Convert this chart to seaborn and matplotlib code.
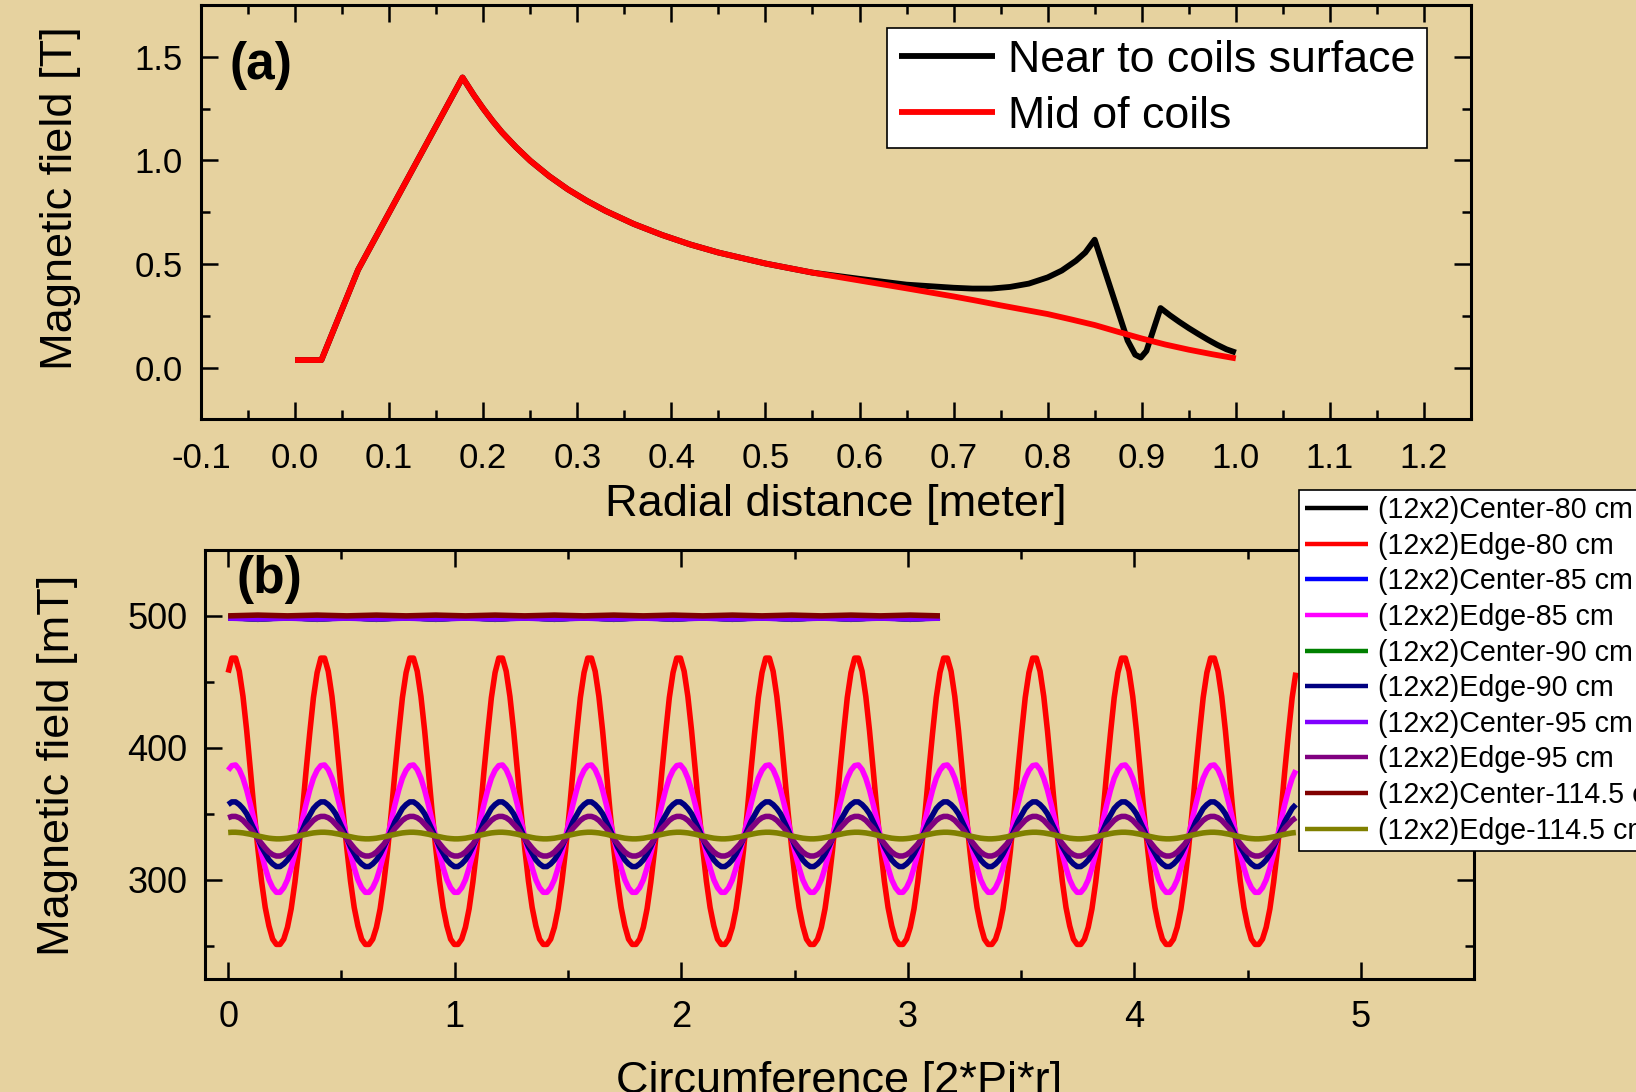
import numpy as np
import pandas as pd
import matplotlib
matplotlib.use("Agg")
import matplotlib.pyplot as plt
import seaborn as sns
from matplotlib.lines import Line2D
from matplotlib.ticker import MultipleLocator

# ---- panel (a): field along the radial distance [m] -> [T] ----
mid_x = [0.000, 0.028, 0.067, 0.178, 0.190, 0.200, 0.210, 0.220, 0.235, 0.250,
         0.270, 0.290, 0.310, 0.330, 0.360, 0.390, 0.420, 0.450, 0.500, 0.550,
         0.600, 0.650, 0.700, 0.725, 0.750, 0.775, 0.800, 0.825, 0.850, 0.875,
         0.900, 0.925, 0.950, 0.975, 1.000]
mid_y = [0.036, 0.036, 0.472, 1.400, 1.315, 1.250, 1.190, 1.135, 1.063, 0.998,
         0.924, 0.860, 0.805, 0.756, 0.693, 0.640, 0.594, 0.555, 0.502, 0.458,
         0.420, 0.382, 0.343, 0.322, 0.300, 0.279, 0.258, 0.232, 0.205, 0.172,
         0.140, 0.111, 0.086, 0.064, 0.044]

# near the coil surface: same as mid-coil up to 0.55 m, then the coil bumps
near_x = mid_x[:20] + [0.600, 0.650, 0.700, 0.720, 0.740, 0.760, 0.780, 0.800,
                       0.815, 0.830, 0.840, 0.850, 0.885, 0.893, 0.899, 0.905,
                       0.920, 0.930, 0.940, 0.950, 0.960, 0.970, 0.980, 0.990,
                       1.000]
near_y = mid_y[:20] + [0.428, 0.400, 0.385, 0.381, 0.381, 0.389, 0.405, 0.435,
                       0.468, 0.515, 0.555, 0.617, 0.130, 0.062, 0.048, 0.080,
                       0.287, 0.252, 0.220, 0.190, 0.162, 0.135, 0.110, 0.088,
                       0.072]

# ---- panel (b): field along the circumference [2*Pi*r] -> [mT] ----
pole_pitch = 0.3927          # one period of the ripple
n_periods = 12
# one period of each edge curve (24 readings, starting at x = 0)
edge_80 = [457, 468, 468, 458, 439, 413, 383, 352, 324, 299, 279, 265,
           255, 251, 251, 255, 264, 278, 298, 322, 351, 382, 411, 438]
edge_85 = [383, 386.5, 387, 383.5, 377, 368, 357, 345, 332, 320, 309, 300,
           294, 290.5, 290.5, 294, 300, 309, 320, 332, 345, 357, 368, 377]
edge_90 = [357, 359, 359, 357, 354, 350, 344, 338, 331.5, 325, 320, 315,
           312, 310, 310, 312, 315, 319.5, 325, 331, 337.5, 344, 349, 354]
edge_95 = [347, 348, 348, 347, 345, 342, 339, 335, 331, 327.5, 324, 321,
           319, 318, 318, 319, 321, 324, 327, 331, 335, 339, 342, 345]
edge_114 = [335.8, 336, 336, 335.8, 335.5, 335, 334.5, 333.8, 333.2, 332.6, 332, 331.5,
            331.2, 331, 331, 331.2, 331.5, 332, 332.5, 333.2, 333.8, 334.4, 335, 335.5]

# centre curves only run to x = pi, two readings per small ripple
center_span = np.pi
center_80 = [499.0, 497.4]
center_85 = [498.4, 497.8]
center_90 = [498.8, 497.6]
center_95 = [498.3, 497.7]
center_114 = [500.0, 500.6]

names_b = ["(12x2)Center-80 cm", "(12x2)Edge-80 cm", "(12x2)Center-85 cm",
           "(12x2)Edge-85 cm", "(12x2)Center-90 cm", "(12x2)Edge-90 cm",
           "(12x2)Center-95 cm", "(12x2)Edge-95 cm", "(12x2)Center-114.5 cm",
           "(12x2)Edge-114.5 cm"]
colors_b = ["#000000", "#FF0000", "#0000FF", "#FF00FF", "#008000",
            "#000080", "#8000FF", "#800080", "#800000", "#808000"]

BG = "#E6D29F"


def repeat_period(cycle, n):
    return list(cycle) * n + [cycle[0]]


def series_frame(name, xs, ys):
    return pd.DataFrame({"x": xs, "y": ys, "series": name})


edge_x = np.arange(n_periods * len(edge_80) + 1) * (pole_pitch / len(edge_80))
center_x = np.arange(2 * n_periods + 1) * (center_span / (2 * n_periods))

values_b = [center_80, edge_80, center_85, edge_85, center_90, edge_90,
            center_95, edge_95, center_114, edge_114]
frames = []
for name, vals in zip(names_b, values_b):
    xs = center_x if "Center" in name else edge_x
    frames.append(series_frame(name, xs, repeat_period(vals, n_periods)))
df_b = pd.concat(frames, ignore_index=True)

names_a = ["Near to coils surface", "Mid of coils"]
colors_a = ["#000000", "#FF0000"]
df_a = pd.concat([series_frame(names_a[0], near_x, near_y),
                  series_frame(names_a[1], mid_x, mid_y)], ignore_index=True)

sns.set_style("ticks")
plt.rcParams['font.family'] = ['Liberation Sans', 'DejaVu Sans']
plt.rcParams['axes.unicode_minus'] = False
plt.rcParams['lines.solid_capstyle'] = 'butt'
plt.rcParams['lines.solid_joinstyle'] = 'round'
plt.rcParams['axes.linewidth'] = 2.2
for key in ('text.color', 'axes.labelcolor', 'xtick.color', 'ytick.color',
            'xtick.labelcolor', 'ytick.labelcolor'):
    plt.rcParams[key] = 'black'

fig = plt.figure(figsize=(16.36, 10.92), dpi=100)
fig.patch.set_facecolor(BG)
ax1 = fig.add_axes([0.12286, 0.61603, 0.77628, 0.37940])
ax2 = fig.add_axes([0.12561, 0.10375, 0.77555, 0.39267])

sns.lineplot(data=df_a, x="x", y="y", hue="series", hue_order=names_a,
             palette=dict(zip(names_a, colors_a)), estimator=None, sort=False,
             lw=4.2, legend=False, ax=ax1)
sns.lineplot(data=df_b, x="x", y="y", hue="series", hue_order=names_b,
             palette=dict(zip(names_b, colors_b)), estimator=None, sort=False,
             lw=4.0, legend=False, ax=ax2)

for ax in (ax1, ax2):
    ax.set_facecolor("none")
    for s in ax.spines.values():
        s.set_color("black")
        s.set_linewidth(2.2)
    ax.tick_params(which="both", direction="in", top=True, right=True,
                   color="black", labelcolor="black", width=1.8)
    ax.tick_params(which="major", length=12.5, pad=13)
    ax.tick_params(which="minor", length=6.5)

ax1.set_xlim(-0.1, 1.25)
ax1.set_ylim(-0.25, 1.75)
ax1.xaxis.set_major_locator(MultipleLocator(0.1))
ax1.xaxis.set_minor_locator(MultipleLocator(0.05))
ax1.yaxis.set_major_locator(MultipleLocator(0.5))
ax1.yaxis.set_minor_locator(MultipleLocator(0.25))
ax1.tick_params(labelsize=25)
ax1.tick_params(axis="x", which="major", pad=16.5)
ax1.set_xlabel("Radial distance [meter]", fontsize=32.5, va="center")
ax1.set_ylabel("Magnetic field [T]", fontsize=32.5, va="center")
ax1.xaxis.set_label_coords(0.5, -0.205)
ax1.yaxis.set_label_coords(-0.1105, 0.534)
ax1.text(0.047, 0.855, "(a)", transform=ax1.transAxes, fontsize=37,
         fontweight="bold", ha="center", va="center")

ax2.set_xlim(-0.1, 5.5)
ax2.set_ylim(225, 550)
ax2.xaxis.set_major_locator(MultipleLocator(1))
ax2.xaxis.set_minor_locator(MultipleLocator(0.5))
ax2.yaxis.set_major_locator(MultipleLocator(100))
ax2.yaxis.set_minor_locator(MultipleLocator(50))
ax2.tick_params(labelsize=26)
ax2.tick_params(axis="x", which="major", pad=15)
ax2.set_xlabel("Circumference [2*Pi*r]", fontsize=32.5, va="center")
ax2.set_ylabel("Magnetic field [mT]", fontsize=32.5, va="center")
ax2.xaxis.set_label_coords(0.499, -0.24)
ax2.yaxis.set_label_coords(-0.1167, 0.498)
ax2.text(0.05, 0.932, "(b)", transform=ax2.transAxes, fontsize=37,
         fontweight="bold", ha="center", va="center")

handles_a = [Line2D([], [], color=c, lw=4.2) for c in colors_a]
leg_a = ax1.legend(handles_a, names_a, loc="upper left",
                   bbox_to_anchor=(887 / 1636, 1 - 28 / 1092),
                   bbox_transform=fig.transFigure, borderaxespad=0,
                   fontsize=32.2, handlelength=2.15, handletextpad=0.3,
                   labelspacing=0.34, borderpad=0.26, fancybox=False,
                   framealpha=1, edgecolor="black", facecolor="white")
leg_a.get_frame().set_linewidth(1.2)

handles_b = [Line2D([], [], color=c, lw=3.2) for c in colors_b]
leg_b = ax2.legend(handles_b, names_b, loc="upper left",
                   bbox_to_anchor=(1299 / 1636, 1 - 490 / 1092),
                   bbox_transform=fig.transFigure, borderaxespad=0,
                   fontsize=20.6, handlelength=2.2, handletextpad=0.33,
                   labelspacing=0.265, borderpad=0.22, fancybox=False,
                   framealpha=1, edgecolor="black", facecolor="white")
leg_b.get_frame().set_linewidth(1.2)

fig.savefig("out.png", dpi=100, facecolor=fig.get_facecolor())
